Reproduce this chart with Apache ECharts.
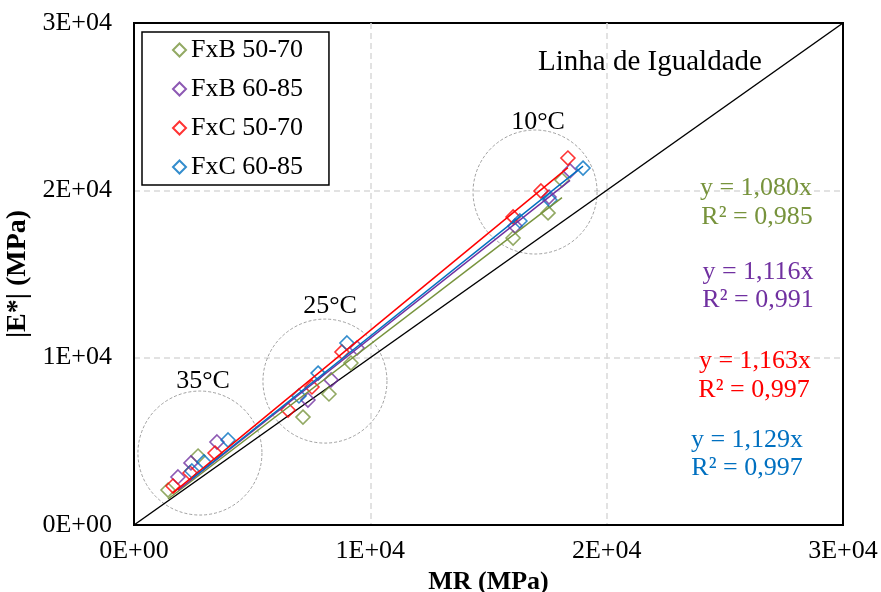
<!DOCTYPE html>
<html>
<head>
<meta charset="utf-8">
<script src="https://cdn.jsdelivr.net/npm/echarts@6/dist/echarts.min.js"></script>
<style>html,body{margin:0;padding:0;background:#fff}#c{width:881px;height:592px}</style>
</head>
<body>
<div id="c"></div>
<script>
const FONT = '"Liberation Serif","Times New Roman",serif';
const axisTicks = [0, 10000, 20000, 30000];
const tickLabels = ['0E+00', '1E+04', '2E+04', '3E+04'];

const seriesNames = ['FxB 50-70', 'FxB 60-85', 'FxC 50-70', 'FxC 60-85'];
const seriesColors = ['#77933C', '#7030A0', '#FF0000', '#0070C0'];

const fxb5070_MR = [1440, 2710, 7150, 8250, 9180, 16040, 17520, 18110];
const fxb5070_E  = [2090, 4120, 6450, 7830, 9680, 17150, 18650, 20620];
const fxb6085_MR = [1860, 2410, 3510, 7360, 8340, 9440, 16120, 17560, 18450];
const fxb6085_E  = [2870, 3710, 4960, 7470, 8670, 10580, 17870, 19600, 21160];
const fxc5070_MR = [1650, 2370, 3430, 6520, 7530, 8800, 16040, 17220, 18360];
const fxc5070_E  = [2330, 3110, 4300, 6870, 8250, 10340, 18410, 19960, 21930];
const fxc6085_MR = [2450, 2960, 3980, 6980, 7790, 9010, 16330, 17600, 19000];
const fxc6085_E  = [3230, 3770, 5080, 7710, 9080, 10880, 18170, 19420, 21330];

const slopes = [1.080, 1.116, 1.163, 1.129];
const r2 = ['0,985', '0,991', '0,997', '0,997'];

const tempLabels = ['35°C', '25°C', '10°C'];
const tempCentersMR = [2790, 8080, 16970];
const tempCentersE = [4300, 8600, 19900];

const equality = [[0, 0], [30000, 30000]];

const MRs = [fxb5070_MR, fxb6085_MR, fxc5070_MR, fxc6085_MR];
const Es = [fxb5070_E, fxb6085_E, fxc5070_E, fxc6085_E];

const series = [];
// circles
series.push({
  type: 'scatter', name: 'circles', silent: true, z: 1,
  symbol: 'circle', symbolSize: 124,
  itemStyle: {color: 'rgba(0,0,0,0)', borderColor: '#8a8a8a', borderWidth: 1, borderType: [3, 2]},
  data: tempCentersMR.map((x, i) => [x, tempCentersE[i]])
});
// equality line
series.push({
  type: 'line', name: 'Linha de Igualdade', symbol: 'none', z: 2,
  lineStyle: {color: '#000', width: 1.5}, data: equality
});
// scatter series
seriesNames.forEach((n, i) => {
  series.push({
    type: 'scatter', name: n, symbol: 'diamond', symbolSize: 14, z: 3,
    itemStyle: {color: 'rgba(0,0,0,0)', borderColor: seriesColors[i], borderWidth: 1.6},
    data: MRs[i].map((x, k) => [x, Es[i][k]])
  });
});
// trendlines
seriesNames.forEach((n, i) => {
  const xmin = Math.min(...MRs[i]), xmax = Math.max(...MRs[i]);
  series.push({
    type: 'line', name: n + ' trend', symbol: 'none', z: 4, silent: true,
    lineStyle: {color: seriesColors[i], width: 1.5},
    data: [[xmin, slopes[i] * xmin], [xmax, slopes[i] * xmax]]
  });
});

function fmt(v) { const i = axisTicks.indexOf(v); return i >= 0 ? tickLabels[i] : ''; }

const txt = (t, x, y, color, size) => ({
  type: 'text', x: x, y: y, z: 100,
  style: {text: t, font: (size || 26) + 'px ' + FONT, fill: color, textAlign: 'center', textVerticalAlign: 'middle'}
});

const graphics = [
  txt(tempLabels[0], 203, 381, '#000'),
  txt(tempLabels[1], 330, 306, '#000'),
  txt(tempLabels[2], 538, 122, '#000'),
  txt('Linha de Igualdade', 650, 62, '#000', 29),
  txt('y = ' + slopes[0].toFixed(3).replace('.', ',') + 'x', 756, 188, seriesColors[0]),
  txt('R² = ' + r2[0], 757, 217, seriesColors[0]),
  txt('y = ' + slopes[1].toFixed(3).replace('.', ',') + 'x', 758, 272, seriesColors[1]),
  txt('R² = ' + r2[1], 758, 300, seriesColors[1]),
  txt('y = ' + slopes[2].toFixed(3).replace('.', ',') + 'x', 755, 361, seriesColors[2]),
  txt('R² = ' + r2[2], 754, 390, seriesColors[2]),
  txt('y = ' + slopes[3].toFixed(3).replace('.', ',') + 'x', 747, 440, seriesColors[3]),
  txt('R² = ' + r2[3], 747, 468, seriesColors[3])
];

const split = {show: true, showMinLine: false, showMaxLine: false, lineStyle: {color: '#d9d9d9', type: [6, 4], width: 1.5}};

const chart = echarts.init(document.getElementById('c'), null, {renderer: 'canvas'});
chart.setOption({
  animation: false,
  backgroundColor: '#fff',
  grid: {left: 134, top: 23, right: 38, bottom: 67, show: true, borderColor: '#000', borderWidth: 2, containLabel: false, outerBoundsMode: 'none'},
  legend: {
    data: seriesNames, orient: 'vertical', left: 142, top: 32,
    padding: [5, 26, 5, 30], itemGap: 13, itemWidth: 13, itemHeight: 13,
    borderColor: '#000', borderWidth: 1.5, backgroundColor: '#fff',
    textStyle: {fontFamily: FONT, fontSize: 26, color: '#000'}
  },
  xAxis: {
    type: 'value', min: 0, max: 30000, interval: 10000,
    name: 'MR (MPa)', nameLocation: 'middle', nameGap: 39,
    nameTextStyle: {fontFamily: FONT, fontSize: 26, fontWeight: 'bold', color: '#000'},
    axisLine: {show: true, lineStyle: {color: '#000', width: 2}},
    axisTick: {show: false},
    axisLabel: {formatter: fmt, fontFamily: FONT, fontSize: 26, color: '#000', margin: 13},
    splitLine: split
  },
  yAxis: {
    type: 'value', min: 0, max: 30000, interval: 10000,
    name: '|E*| (MPa)', nameLocation: 'middle', nameGap: 84,
    nameTextStyle: {fontFamily: FONT, fontSize: 28, fontWeight: 'bold', color: '#000'},
    axisLine: {show: true, lineStyle: {color: '#000', width: 2}},
    axisTick: {show: false},
    axisLabel: {formatter: fmt, fontFamily: FONT, fontSize: 26, color: '#000', margin: 22},
    splitLine: split
  },
  series: series,
  graphic: graphics
});
</script>
</body>
</html>
